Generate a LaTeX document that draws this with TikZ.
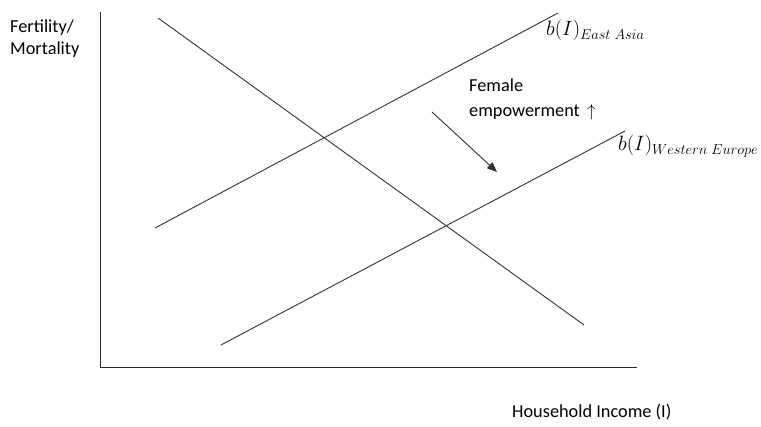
\documentclass[tikz,border=0pt]{standalone}
\usepackage{fontspec}
\setmainfont{Carlito}
\usetikzlibrary{arrows.meta}
\begin{document}
\begin{tikzpicture}[x=1pt,y=-1pt,
  curve/.style={draw=black!80,line width=0.9pt},
  axis/.style={draw=black!85,line width=1pt},
  lbl/.style={font=\fontsize{18.3}{22}\selectfont,inner sep=0pt,anchor=base west},
  mlbl/.style={font=\fontsize{20}{23}\selectfont,inner sep=0pt,anchor=base west}]
\useasboundingbox (0,0) rectangle (761,427);
% axes
\coordinate (top) at (100,12);
\coordinate (origin) at (100,368);
\coordinate (xend) at (637,368);
\draw[axis] (top) -- (origin) -- (xend);
% curves
\coordinate (d1) at (158,18);
\coordinate (d2) at (584,325);
\draw[curve] (d1) -- (d2);
\coordinate (e1) at (155,228);
\coordinate (e2) at (558,13);
\draw[curve] (e1) -- (e2);
\coordinate (w1) at (221,345);
\coordinate (w2) at (625,131);
\draw[curve] (w1) -- (w2);
\coordinate (a1) at (432,112);
\coordinate (a2) at (497,172);
\draw[curve,-{Triangle[length=10pt,width=8pt]}] (a1) -- (a2);
% labels
\node[lbl] (fert) at (10,33) {Fertility/};
\node[lbl] (mort) at (10,55) {Mortality};
\node[mlbl] (ea) at (546,36) {$b(I)_{East\;Asia}$};
\node[mlbl] (we) at (618,151) {$b(I)_{Western\;Europe}$};
\node[lbl] (fem) at (469,92) {Female};
\node[lbl] (emp) at (469,117) {empowerment\, $\uparrow$};
\node[lbl] (hi) at (512,418) {Household Income (I)};
\end{tikzpicture}
\end{document}
